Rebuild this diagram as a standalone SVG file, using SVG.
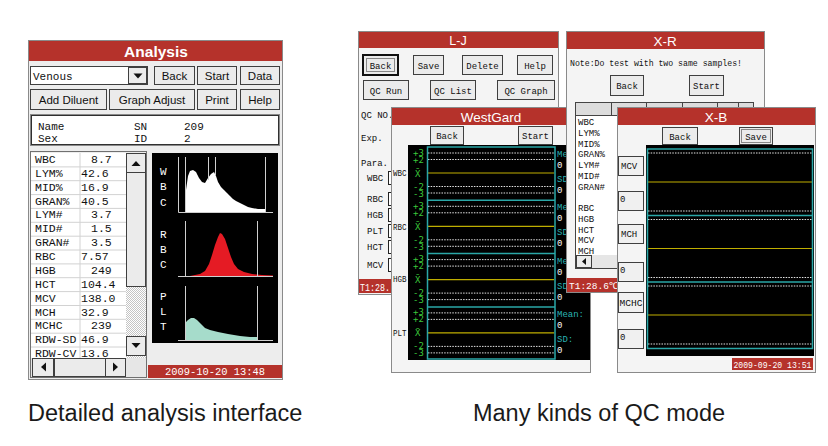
<svg xmlns="http://www.w3.org/2000/svg" width="828" height="446" viewBox="0 0 828 446">
<defs>
<style>
.win{fill:#f4f4f4;stroke:#8a8a8a;stroke-width:1}
.bar{fill:#b5322b}
.tt{font-family:"Liberation Sans",Arial,sans-serif;fill:#fff;text-anchor:middle}
.btn{fill:#ebebeb;stroke:#3f3f3f;stroke-width:1}
.bt{font-family:"Liberation Sans",Arial,sans-serif;font-size:11.5px;fill:#111;text-anchor:middle}
.m{font-family:"Liberation Mono","DejaVu Sans Mono",monospace;fill:#111}
.s9{font-size:9px}
.s11{font-size:11px}
.s12{font-size:11.5px}
.mc{text-anchor:middle}
.w{fill:#fff}
.dot{stroke:#e4e4e4;stroke-width:1;stroke-dasharray:1.5 1.2}
.yl{stroke:#bfae00;stroke-width:1.2}
.cy{stroke:#2aa7a7;stroke-width:1.5;fill:none}
.g{fill:#3bc83b;font-family:"DejaVu Sans Mono",monospace;font-size:9px}
.c{fill:#2ab3b3;font-family:"Liberation Mono","DejaVu Sans Mono",monospace;font-size:9px}
.wl{fill:#fff;font-family:"Liberation Mono","DejaVu Sans Mono",monospace;font-size:9px}
.grid{stroke:#d2d2d2;stroke-width:1;fill:none}
.ax{stroke:#cfcfcf;stroke-width:1;fill:none}
.cap{font-family:"Liberation Sans",Arial,sans-serif;font-size:23.5px;fill:#1a1a1a}
.foc{fill:none;stroke:#222;stroke-width:1;stroke-dasharray:1 1}
.box{fill:#f0f0f0;stroke:#3f3f3f;stroke-width:1}
</style>
<pattern id="chk" width="2" height="2" patternUnits="userSpaceOnUse">
<rect width="2" height="2" fill="#fff"/>
<rect width="1" height="1" fill="#c4c4c4"/>
<rect x="1" y="1" width="1" height="1" fill="#c4c4c4"/>
</pattern>
<g id="wgs">
<line x1="428" y1="6" x2="554" y2="6" class="dot"/>
<line x1="428" y1="12.5" x2="554" y2="12.5" class="dot"/>
<line x1="428" y1="26" x2="554" y2="26" class="yl"/>
<line x1="428" y1="39.5" x2="554" y2="39.5" class="dot"/>
<line x1="428" y1="46" x2="554" y2="46" class="dot"/>
<text x="413" y="8.5" class="g">+3</text>
<text x="413" y="15.5" class="g">+2</text>
<text x="415" y="29.5" class="g">X̄</text>
<text x="413" y="42.5" class="g">-2</text>
<text x="413" y="49.5" class="g">-3</text>
<text x="557" y="10" class="c">Mean:</text>
<text x="557" y="21" class="wl">0</text>
<text x="557" y="35" class="c">SD:</text>
<text x="557" y="46" class="wl">0</text>
</g>
<g id="xbs">
<line x1="648" y1="4" x2="812" y2="4" class="dot"/>
<line x1="648" y1="33" x2="812" y2="33" class="yl"/>
<line x1="648" y1="62" x2="812" y2="62" class="dot"/>
</g>
</defs>
<rect width="828" height="446" fill="#fff"/>

<g id="analysis">
<rect x="28.5" y="40.5" width="254" height="339" fill="#ededed" stroke="#8a8a8a"/>
<rect x="29" y="41" width="253" height="20" class="bar"/>
<text x="156" y="57" class="tt" style="font-size:15.5px;font-weight:bold">Analysis</text>
<rect x="30.5" y="66.5" width="117" height="18" fill="#fff" stroke="#404040"/>
<text x="33" y="79.5" class="m s11">Venous</text>
<rect x="128.5" y="67.5" width="18" height="16" class="btn"/>
<path d="M133.5 73.5h9l-4.5 5z" fill="#111"/>
<rect x="154.5" y="66.5" width="40" height="18" class="btn"/>
<text x="174.5" y="80" class="bt">Back</text>
<rect x="197.5" y="66.5" width="39" height="18" class="btn"/>
<text x="217" y="80" class="bt">Start</text>
<rect x="240.5" y="66.5" width="39" height="18" class="btn"/>
<text x="260" y="80" class="bt">Data</text>
<rect x="30.5" y="89.5" width="76" height="20" class="btn"/>
<text x="68.5" y="104" class="bt">Add Diluent</text>
<rect x="109.5" y="89.5" width="85" height="20" class="btn"/>
<text x="152" y="104" class="bt">Graph Adjust</text>
<rect x="197.5" y="89.5" width="39" height="20" class="btn"/>
<text x="217" y="104" class="bt">Print</text>
<rect x="240.5" y="89.5" width="39" height="20" class="btn"/>
<text x="260" y="104" class="bt">Help</text>
<rect x="30.5" y="114.5" width="249" height="31" fill="#fff" stroke="#8a8a8a"/>
<rect x="31.5" y="115.5" width="247" height="29" fill="none" stroke="#303030"/>
<text x="38" y="130" class="m s11">Name</text>
<text x="134" y="130" class="m s11">SN</text>
<text x="184" y="130" class="m s11">209</text>
<text x="38" y="142" class="m s11">Sex</text>
<text x="134" y="142" class="m s11">ID</text>
<text x="184" y="142" class="m s11">2</text>
<rect x="31" y="153" width="95" height="205" fill="#fff"/>
<path class="grid" d="M31 166.9H126M31 180.7H126M31 194.6H126M31 208.4H126M31 222.3H126M31 236.2H126M31 250H126M31 263.9H126M31 277.7H126M31 291.6H126M31 305.5H126M31 319.3H126M31 333.2H126M31 347H126M80 153V358"/>
<g class="m s12">
<text x="35" y="163">WBC</text><text x="91" y="163">8.7</text>
<text x="35" y="176.9">LYM%</text><text x="81" y="176.9">42.6</text>
<text x="35" y="190.7">MID%</text><text x="81" y="190.7">16.9</text>
<text x="35" y="204.6">GRAN%</text><text x="81" y="204.6">40.5</text>
<text x="35" y="218.4">LYM#</text><text x="91" y="218.4">3.7</text>
<text x="35" y="232.3">MID#</text><text x="91" y="232.3">1.5</text>
<text x="35" y="246.2">GRAN#</text><text x="91" y="246.2">3.5</text>
<text x="35" y="260">RBC</text><text x="81" y="260">7.57</text>
<text x="35" y="273.9">HGB</text><text x="91" y="273.9">249</text>
<text x="35" y="287.7">HCT</text><text x="81" y="287.7">104.4</text>
<text x="35" y="301.6">MCV</text><text x="81" y="301.6">138.0</text>
<text x="35" y="315.5">MCH</text><text x="81" y="315.5">32.9</text>
<text x="35" y="329.3">MCHC</text><text x="91" y="329.3">239</text>
<text x="35" y="343.2">RDW-SD</text><text x="81" y="343.2">46.9</text>
<text x="35" y="357">RDW-CV</text><text x="81" y="357">13.6</text>
</g>
<rect x="126" y="153" width="20" height="205" fill="url(#chk)"/>
<rect x="126.5" y="153.5" width="19" height="19" class="btn"/>
<path d="M131.5 166h9l-4.5-5z" fill="#111"/>
<rect x="126.5" y="172.5" width="19" height="114" class="btn"/>
<rect x="126.5" y="336.5" width="19" height="19" class="btn"/>
<path d="M131.5 343h9l-4.5 5z" fill="#111"/>
<rect x="31" y="358" width="115" height="20" fill="#e6e6e6"/>
<rect x="32.5" y="358.5" width="21" height="18" class="btn"/>
<path d="M46 362.5v9l-5-4.5z" fill="#111"/>
<rect x="54.5" y="358.5" width="51" height="18" class="btn"/>
<rect x="105.5" y="358.5" width="20" height="18" class="btn"/>
<path d="M113 362.5v9l5-4.5z" fill="#111"/>
<rect x="30.5" y="151.5" width="116" height="226" fill="none" stroke="#707070"/>
<rect x="152" y="153" width="126" height="190" fill="#000"/>
<g class="m w s11">
<text x="160" y="175">W</text><text x="160" y="190">B</text><text x="160" y="206">C</text>
<text x="160" y="238">R</text><text x="160" y="253">B</text><text x="160" y="268">C</text>
<text x="160" y="300">P</text><text x="160" y="315">L</text><text x="160" y="330">T</text>
</g>
<path d="M185,212 186,190 188,176 190,171 193,170 196,172 199,178 202,182 205,183 208,178 211,174 214,172 216,176 218,182 221,187 224,190 227,193 230,196 233,199 236,201 240,203 244,205 248,207 252,208 258,209 265,209 265,212Z" fill="#fff"/>
<path d="M190,276 200,274 205,271 209,264 212,255 215,245 218,237 220,233 222,234 225,239 228,248 231,257 234,264 238,269 244,272 252,274 262,275 273,275.5 273,276Z" fill="#e51b24"/>
<path d="M185,340 185,323 188,320 191,318 194,318 197,320 201,324 205,328 210,330 218,332 228,334 240,336 250,337 257,337 257,340Z" fill="#a6dccb"/>
<path class="ax" d="M178.5 157V212.5H273M185.5 157V212M208.5 157V180M215.5 157V175M265.5 157V212M178 276.5H273M185.5 221V276M257.5 221V276M178 340.5H273M185.5 286V340M257.5 286V340"/>
<rect x="148" y="365" width="134" height="13" class="bar"/>
<text x="215" y="375" class="m w s11 mc" textLength="100" lengthAdjust="spacingAndGlyphs">2009-10-20 13:48</text>
</g>

<g id="lj">
<rect x="358.5" y="31.5" width="200" height="263" class="win"/>
<rect x="359" y="32" width="199" height="16" class="bar"/>
<text x="458" y="45" class="tt" style="font-size:12.5px">L-J</text>
<rect x="363" y="55" width="35" height="20" fill="#ebebeb" stroke="#111" stroke-width="2"/>
<rect x="366.5" y="58.5" width="28" height="13" class="foc"/>
<text x="380.5" y="68.5" class="m s9 mc">Back</text>
<rect x="413.5" y="55.5" width="30" height="19" class="btn"/>
<text x="428.5" y="68.5" class="m s9 mc">Save</text>
<rect x="462.5" y="55.5" width="40" height="19" class="btn"/>
<text x="482.5" y="68.5" class="m s9 mc">Delete</text>
<rect x="517.5" y="55.5" width="35" height="19" class="btn"/>
<text x="535" y="68.5" class="m s9 mc">Help</text>
<rect x="363.5" y="80.5" width="45" height="19" class="btn"/>
<text x="386" y="93.5" class="m s9 mc">QC Run</text>
<rect x="430.5" y="80.5" width="45" height="19" class="btn"/>
<text x="453" y="93.5" class="m s9 mc">QC List</text>
<rect x="497.5" y="80.5" width="57" height="19" class="btn"/>
<text x="526" y="93.5" class="m s9 mc">QC Graph</text>
<text x="361" y="118" class="m s9">QC NO.</text>
<text x="361" y="141" class="m s9">Exp.</text>
<text x="361" y="166" class="m s9">Para.</text>
<text x="367" y="181" class="m s9">WBC</text>
<text x="367" y="202" class="m s9">RBC</text>
<text x="367" y="218" class="m s9">HGB</text>
<text x="367" y="234" class="m s9">PLT</text>
<text x="367" y="250" class="m s9">HCT</text>
<text x="367" y="268" class="m s9">MCV</text>
<g fill="#fff" stroke="#222">
<rect x="388.5" y="171.5" width="30" height="13"/>
<rect x="388.5" y="192.5" width="30" height="13"/>
<rect x="388.5" y="208.5" width="30" height="13"/>
<rect x="388.5" y="224.5" width="30" height="13"/>
<rect x="388.5" y="240.5" width="30" height="13"/>
<rect x="388.5" y="258.5" width="30" height="13"/>
</g>
<rect x="359" y="279" width="199" height="14" class="bar"/>
<text x="360" y="290.5" class="wl" style="font-size:10px" textLength="30" lengthAdjust="spacingAndGlyphs">T1:28.</text>
</g>

<g id="westgard">
<rect x="391.5" y="107.5" width="199" height="265" class="win"/>
<rect x="392" y="108" width="198" height="17" class="bar"/>
<text x="491" y="121.5" class="tt" style="font-size:13.5px">WestGard</text>
<rect x="430.5" y="126.5" width="33" height="18" class="btn"/>
<text x="447" y="139" class="m s9 mc">Back</text>
<rect x="518.5" y="126.5" width="34" height="18" class="btn"/>
<text x="535.5" y="139" class="m s9 mc">Start</text>
<rect x="408" y="145" width="182" height="215" fill="#000"/>
<use href="#wgs" transform="translate(0,147)"/>
<use href="#wgs" transform="translate(0,200.3)"/>
<use href="#wgs" transform="translate(0,253.6)"/>
<use href="#wgs" transform="translate(0,306.9)"/>
<path class="cy" d="M427.5 147V359H555V147ZM427.5 200.3H555M427.5 253.6H555M427.5 306.9H555"/>
<text x="393" y="176" class="m s9" textLength="13.5" lengthAdjust="spacingAndGlyphs">WBC</text>
<text x="393" y="230" class="m s9" textLength="13.5" lengthAdjust="spacingAndGlyphs">RBC</text>
<text x="393" y="282" class="m s9" textLength="13.5" lengthAdjust="spacingAndGlyphs">HGB</text>
<text x="393" y="336" class="m s9" textLength="13.5" lengthAdjust="spacingAndGlyphs">PLT</text>
</g>

<g id="xr">
<rect x="566.5" y="31.5" width="198" height="261" class="win"/>
<rect x="567" y="32" width="197" height="17" class="bar"/>
<text x="665" y="45.5" class="tt" style="font-size:13.5px">X-R</text>
<text x="570" y="66" class="m s9" textLength="172" lengthAdjust="spacingAndGlyphs">Note:Do test with two same samples!</text>
<rect x="610.5" y="75.5" width="33" height="20" class="btn"/>
<text x="627" y="89" class="m s9 mc">Back</text>
<rect x="689.5" y="75.5" width="34" height="20" class="btn"/>
<text x="706.5" y="89" class="m s9 mc">Start</text>
<rect x="575.5" y="102.5" width="178" height="13" fill="#dcdcdc" stroke="#444"/>
<path d="M611.5 102.5V115.5M646.5 102.5V115.5M682.5 102.5V115.5M717.5 102.5V115.5M738.5 102.5V115.5" stroke="#444"/>
<rect x="575.5" y="115.5" width="60" height="153" fill="#fff" stroke="#444"/>
<g class="m s9">
<text x="578" y="125">WBC</text>
<text x="578" y="136">LYM%</text>
<text x="578" y="147">MID%</text>
<text x="578" y="157">GRAN%</text>
<text x="578" y="168">LYM#</text>
<text x="578" y="179">MID#</text>
<text x="578" y="190">GRAN#</text>
<text x="578" y="211">RBC</text>
<text x="578" y="222">HGB</text>
<text x="578" y="232.5">HCT</text>
<text x="578" y="243">MCV</text>
<text x="578" y="253.5">MCH</text>
</g>
<rect x="576" y="255" width="59" height="13" fill="#e6e6e6"/>
<rect x="576.5" y="255.5" width="15" height="12" class="btn"/>
<path d="M586 258v7l-4-3.5z" fill="#111"/>
<rect x="567" y="278" width="197" height="14" class="bar"/>
<text x="569" y="289" class="wl" style="font-size:9.5px">T1:28.6℃</text>
</g>

<g id="xb">
<rect x="617.5" y="107.5" width="198" height="265" class="win"/>
<rect x="618" y="108" width="197" height="17" class="bar"/>
<text x="716" y="121.5" class="tt" style="font-size:13.5px">X-B</text>
<rect x="662.5" y="127.5" width="35" height="17" class="btn"/>
<text x="680" y="139.5" class="m s9 mc">Back</text>
<rect x="739.5" y="127.5" width="33" height="17" class="btn"/>
<rect x="741.5" y="129.5" width="29" height="13" class="foc"/>
<text x="756" y="139.5" class="m s9 mc">Save</text>
<rect x="646" y="145" width="168" height="211" fill="#000"/>
<use href="#xbs" transform="translate(0,149)"/>
<use href="#xbs" transform="translate(0,215.5)"/>
<use href="#xbs" transform="translate(0,282)"/>
<path class="cy" d="M647.5 149V348.5H812.5V149ZM647.5 215.5H812.5M647.5 282H812.5"/>
<rect x="618.5" y="156.5" width="25" height="19" class="box"/>
<text x="621" y="169" class="m s9">MCV</text>
<rect x="618.5" y="191.5" width="25" height="19" class="box"/>
<text x="620" y="202" class="m s9">0</text>
<rect x="618.5" y="224.5" width="25" height="19" class="box"/>
<text x="621" y="237" class="m s9">MCH</text>
<rect x="618.5" y="262.5" width="25" height="19" class="box"/>
<text x="620" y="273" class="m s9">0</text>
<rect x="618.5" y="292.5" width="25" height="20" class="box"/>
<text x="619.5" y="305.5" class="m s9" textLength="23" lengthAdjust="spacingAndGlyphs">MCHC</text>
<rect x="618.5" y="329.5" width="25" height="19" class="box"/>
<text x="620" y="340" class="m s9">0</text>
<rect x="732" y="358" width="81" height="12" class="bar"/>
<text x="772.5" y="367.5" class="wl mc" textLength="78" lengthAdjust="spacingAndGlyphs">2009-09-20 13:51</text>
</g>

<g id="captions">
<text x="28" y="421" class="cap">Detailed analysis interface</text>
<text x="599" y="421" class="cap" text-anchor="middle">Many kinds of QC mode</text>
</g>
</svg>
